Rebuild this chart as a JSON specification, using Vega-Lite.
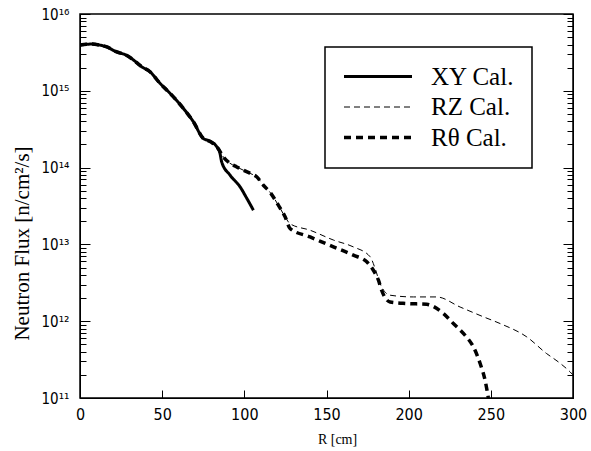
{
  "$schema": "https://vega.github.io/schema/vega-lite/v6.json",
  "width": 493,
  "height": 384,
  "autosize": {"type": "none"},
  "padding": {"left": 80, "top": 14, "right": 18, "bottom": 53},
  "background": "white",
  "config": {
    "view": {"stroke": "black", "strokeWidth": 1.5},
    "axis": {"grid": false, "domainColor": "black", "tickColor": "black", "labelColor": "black", "titleColor": "black", "labelFlush": false},
    "legend": {"strokeWidth": 1.5}
  },
  "data": {
    "values": [
      {"series": "XY Cal.", "R": 0, "flux": 3.94e15},
      {"series": "XY Cal.", "R": 4, "flux": 4.03e15},
      {"series": "XY Cal.", "R": 7, "flux": 4.06e15},
      {"series": "XY Cal.", "R": 12, "flux": 3.94e15},
      {"series": "XY Cal.", "R": 16, "flux": 3.75e15},
      {"series": "XY Cal.", "R": 22, "flux": 3.23e15},
      {"series": "XY Cal.", "R": 28, "flux": 2.92e15},
      {"series": "XY Cal.", "R": 32, "flux": 2.57e15},
      {"series": "XY Cal.", "R": 37.5, "flux": 2.06e15},
      {"series": "XY Cal.", "R": 42.6, "flux": 1.77e15},
      {"series": "XY Cal.", "R": 48.7, "flux": 1.25e15},
      {"series": "XY Cal.", "R": 54.8, "flux": 9.27e14},
      {"series": "XY Cal.", "R": 62.9, "flux": 5.9e14},
      {"series": "XY Cal.", "R": 69, "flux": 3.95e14},
      {"series": "XY Cal.", "R": 75, "flux": 2.4e14},
      {"series": "XY Cal.", "R": 79, "flux": 2.21e14},
      {"series": "XY Cal.", "R": 83.2, "flux": 1.87e14},
      {"series": "XY Cal.", "R": 85.2, "flux": 1.53e14},
      {"series": "XY Cal.", "R": 86.2, "flux": 1.19e14},
      {"series": "XY Cal.", "R": 91.3, "flux": 7.98e13},
      {"series": "XY Cal.", "R": 97.4, "flux": 5.62e13},
      {"series": "XY Cal.", "R": 101.5, "flux": 3.98e13},
      {"series": "XY Cal.", "R": 105.5, "flux": 2.79e13},

      {"series": "RZ Cal.", "R": 0, "flux": 3.94e15},
      {"series": "RZ Cal.", "R": 4, "flux": 4.03e15},
      {"series": "RZ Cal.", "R": 7, "flux": 4.06e15},
      {"series": "RZ Cal.", "R": 12, "flux": 3.94e15},
      {"series": "RZ Cal.", "R": 16, "flux": 3.75e15},
      {"series": "RZ Cal.", "R": 22, "flux": 3.23e15},
      {"series": "RZ Cal.", "R": 28, "flux": 2.92e15},
      {"series": "RZ Cal.", "R": 32, "flux": 2.57e15},
      {"series": "RZ Cal.", "R": 37.5, "flux": 2.06e15},
      {"series": "RZ Cal.", "R": 42.6, "flux": 1.77e15},
      {"series": "RZ Cal.", "R": 48.7, "flux": 1.25e15},
      {"series": "RZ Cal.", "R": 54.8, "flux": 9.27e14},
      {"series": "RZ Cal.", "R": 62.9, "flux": 5.9e14},
      {"series": "RZ Cal.", "R": 69, "flux": 3.95e14},
      {"series": "RZ Cal.", "R": 75, "flux": 2.4e14},
      {"series": "RZ Cal.", "R": 80, "flux": 2.14e14},
      {"series": "RZ Cal.", "R": 84, "flux": 1.78e14},
      {"series": "RZ Cal.", "R": 87.2, "flux": 1.38e14},
      {"series": "RZ Cal.", "R": 91, "flux": 1.15e14},
      {"series": "RZ Cal.", "R": 95.4, "flux": 1.02e14},
      {"series": "RZ Cal.", "R": 100, "flux": 9.12e13},
      {"series": "RZ Cal.", "R": 104, "flux": 8.32e13},
      {"series": "RZ Cal.", "R": 107.5, "flux": 7.59e13},
      {"series": "RZ Cal.", "R": 111.6, "flux": 5.89e13},
      {"series": "RZ Cal.", "R": 115.6, "flux": 4.79e13},
      {"series": "RZ Cal.", "R": 120.7, "flux": 3.24e13},
      {"series": "RZ Cal.", "R": 124.8, "flux": 2.29e13},
      {"series": "RZ Cal.", "R": 127.8, "flux": 1.86e13},
      {"series": "RZ Cal.", "R": 140, "flux": 1.53e13},
      {"series": "RZ Cal.", "R": 154.2, "flux": 1.14e13},
      {"series": "RZ Cal.", "R": 166.3, "flux": 9.29e12},
      {"series": "RZ Cal.", "R": 176.5, "flux": 6.92e12},
      {"series": "RZ Cal.", "R": 179.6, "flux": 4.85e12},
      {"series": "RZ Cal.", "R": 182.6, "flux": 3.09e12},
      {"series": "RZ Cal.", "R": 188.7, "flux": 2.18e12},
      {"series": "RZ Cal.", "R": 202.9, "flux": 2.07e12},
      {"series": "RZ Cal.", "R": 217, "flux": 2.07e12},
      {"series": "RZ Cal.", "R": 231.3, "flux": 1.53e12},
      {"series": "RZ Cal.", "R": 245.5, "flux": 1.14e12},
      {"series": "RZ Cal.", "R": 255.6, "flux": 9.33e11},
      {"series": "RZ Cal.", "R": 271.9, "flux": 6.24e11},
      {"series": "RZ Cal.", "R": 284, "flux": 3.78e11},
      {"series": "RZ Cal.", "R": 291.1, "flux": 2.95e11},
      {"series": "RZ Cal.", "R": 298.2, "flux": 2.19e11},
      {"series": "RZ Cal.", "R": 300, "flux": 2.0e11},

      {"series": "Rθ Cal.", "R": 0, "flux": 3.94e15},
      {"series": "Rθ Cal.", "R": 4, "flux": 4.03e15},
      {"series": "Rθ Cal.", "R": 7, "flux": 4.06e15},
      {"series": "Rθ Cal.", "R": 12, "flux": 3.94e15},
      {"series": "Rθ Cal.", "R": 16, "flux": 3.75e15},
      {"series": "Rθ Cal.", "R": 22, "flux": 3.23e15},
      {"series": "Rθ Cal.", "R": 28, "flux": 2.92e15},
      {"series": "Rθ Cal.", "R": 32, "flux": 2.57e15},
      {"series": "Rθ Cal.", "R": 37.5, "flux": 2.06e15},
      {"series": "Rθ Cal.", "R": 42.6, "flux": 1.77e15},
      {"series": "Rθ Cal.", "R": 48.7, "flux": 1.25e15},
      {"series": "Rθ Cal.", "R": 54.8, "flux": 9.27e14},
      {"series": "Rθ Cal.", "R": 62.9, "flux": 5.9e14},
      {"series": "Rθ Cal.", "R": 69, "flux": 3.95e14},
      {"series": "Rθ Cal.", "R": 75, "flux": 2.4e14},
      {"series": "Rθ Cal.", "R": 80, "flux": 2.14e14},
      {"series": "Rθ Cal.", "R": 84, "flux": 1.78e14},
      {"series": "Rθ Cal.", "R": 87.2, "flux": 1.38e14},
      {"series": "Rθ Cal.", "R": 91, "flux": 1.15e14},
      {"series": "Rθ Cal.", "R": 95.4, "flux": 1.02e14},
      {"series": "Rθ Cal.", "R": 100, "flux": 9.12e13},
      {"series": "Rθ Cal.", "R": 104, "flux": 8.32e13},
      {"series": "Rθ Cal.", "R": 107.5, "flux": 7.59e13},
      {"series": "Rθ Cal.", "R": 111.6, "flux": 5.89e13},
      {"series": "Rθ Cal.", "R": 115.6, "flux": 4.79e13},
      {"series": "Rθ Cal.", "R": 120.7, "flux": 3.24e13},
      {"series": "Rθ Cal.", "R": 124.8, "flux": 2.29e13},
      {"series": "Rθ Cal.", "R": 127.8, "flux": 1.61e13},
      {"series": "Rθ Cal.", "R": 140, "flux": 1.25e13},
      {"series": "Rθ Cal.", "R": 154.2, "flux": 9.29e12},
      {"series": "Rθ Cal.", "R": 166.3, "flux": 7.24e12},
      {"series": "Rθ Cal.", "R": 174.5, "flux": 5.93e12},
      {"series": "Rθ Cal.", "R": 178.5, "flux": 4.61e12},
      {"series": "Rθ Cal.", "R": 181.6, "flux": 3.42e12},
      {"series": "Rθ Cal.", "R": 183.6, "flux": 2.51e12},
      {"series": "Rθ Cal.", "R": 188.7, "flux": 1.78e12},
      {"series": "Rθ Cal.", "R": 198.8, "flux": 1.7e12},
      {"series": "Rθ Cal.", "R": 211, "flux": 1.66e12},
      {"series": "Rθ Cal.", "R": 221.1, "flux": 1.26e12},
      {"series": "Rθ Cal.", "R": 227.2, "flux": 9.33e11},
      {"series": "Rθ Cal.", "R": 234.3, "flux": 6.56e11},
      {"series": "Rθ Cal.", "R": 239.4, "flux": 4.62e11},
      {"series": "Rθ Cal.", "R": 243.5, "flux": 2.81e11},
      {"series": "Rθ Cal.", "R": 246.5, "flux": 1.7e11},
      {"series": "Rθ Cal.", "R": 248.5, "flux": 1.0e11}
    ]
  },
  "layer": [
    {
      "mark": {"type": "line", "color": "black", "interpolate": "monotone", "clip": true},
      "encoding": {
        "x": {
          "field": "R", "type": "quantitative",
          "scale": {"domain": [0, 300], "nice": false},
          "axis": null
        },
        "y": {
          "field": "flux", "type": "quantitative",
          "scale": {"type": "log", "domain": [1e11, 1e16], "nice": false},
          "axis": {
            "orient": "left",
            "values": [1e11, 2e11, 3e11, 4e11, 5e11, 6e11, 7e11, 8e11, 9e11,
                       1e12, 2e12, 3e12, 4e12, 5e12, 6e12, 7e12, 8e12, 9e12,
                       1e13, 2e13, 3e13, 4e13, 5e13, 6e13, 7e13, 8e13, 9e13,
                       1e14, 2e14, 3e14, 4e14, 5e14, 6e14, 7e14, 8e14, 9e14,
                       1e15, 2e15, 3e15, 4e15, 5e15, 6e15, 7e15, 8e15, 9e15, 1e16],
            "labelExpr": "abs(log(datum.value)/LN10 - round(log(datum.value)/LN10)) < 0.001 ? '10' + ['¹¹','¹²','¹³','¹⁴','¹⁵','¹⁶'][round(log(datum.value)/LN10) - 11] : ''",
            "tickSize": {"condition": {"test": "abs(log(datum.value)/LN10 - round(log(datum.value)/LN10)) < 0.001", "value": -10}, "value": -6},
            "labelPadding": 21,
            "labelFont": "'Liberation Sans Narrow', 'DejaVu Sans Condensed', 'Liberation Sans', sans-serif",
            "labelFontSize": 15,
            "title": "Neutron Flux [n/cm²/s]",
            "titleFont": "Liberation Serif", "titleFontSize": 21, "titleFontWeight": "normal",
            "titleX": -58, "titleY": 229, "titleAngle": -90, "titleAlign": "center", "titleBaseline": "middle"
          }
        },
        "strokeDash": {
          "field": "series", "type": "nominal",
          "scale": {"domain": ["XY Cal.", "RZ Cal.", "Rθ Cal."], "range": [[1, 0], [6, 4], [7, 5]]},
          "legend": {
            "orient": "none", "legendX": 245, "legendY": 33, "title": null,
            "strokeColor": "black", "fillColor": "white", "padding": 17,
            "symbolType": "stroke", "symbolSize": 4624, "symbolStrokeColor": "black",
            "labelFont": "Liberation Serif", "labelFontSize": 25, "labelColor": "black",
            "labelOffset": 17, "labelLimit": 300, "clipHeight": 25, "rowPadding": 4.5
          }
        },
        "strokeWidth": {
          "field": "series", "type": "nominal",
          "scale": {"type": "ordinal", "domain": ["XY Cal.", "RZ Cal.", "Rθ Cal."], "range": [3, 1, 3.5]},
          "legend": {
            "orient": "none", "legendX": 245, "legendY": 33, "title": null,
            "strokeColor": "black", "fillColor": "white", "padding": 17,
            "symbolType": "stroke", "symbolSize": 4624, "symbolStrokeColor": "black",
            "labelFont": "Liberation Serif", "labelFontSize": 25, "labelColor": "black",
            "labelOffset": 17, "labelLimit": 300, "clipHeight": 25, "rowPadding": 4.5
          }
        }
      }
    },
    {
      "mark": {"type": "point", "opacity": 0},
      "encoding": {
        "x": {
          "field": "R", "type": "quantitative",
          "axis": {
            "values": [0, 50, 100, 150, 200, 250, 300],
            "tickSize": -8,
            "labelPadding": 16,
            "labelFont": "'Liberation Sans Narrow', 'DejaVu Sans Condensed', 'Liberation Sans', sans-serif",
            "labelFontSize": 16,
            "title": "R [cm]",
            "titleFont": "Liberation Serif", "titleFontSize": 14, "titleFontWeight": "normal",
            "titleX": 257, "titleY": 41, "titleAlign": "center", "titleBaseline": "middle"
          }
        },
        "y": {
          "field": "flux", "type": "quantitative",
          "axis": {
            "orient": "right",
            "values": [1e11, 2e11, 3e11, 4e11, 5e11, 6e11, 7e11, 8e11, 9e11,
                       1e12, 2e12, 3e12, 4e12, 5e12, 6e12, 7e12, 8e12, 9e12,
                       1e13, 2e13, 3e13, 4e13, 5e13, 6e13, 7e13, 8e13, 9e13,
                       1e14, 2e14, 3e14, 4e14, 5e14, 6e14, 7e14, 8e14, 9e14,
                       1e15, 2e15, 3e15, 4e15, 5e15, 6e15, 7e15, 8e15, 9e15, 1e16],
            "labels": false, "title": null,
            "tickSize": {"condition": {"test": "abs(log(datum.value)/LN10 - round(log(datum.value)/LN10)) < 0.001", "value": -10}, "value": -6}
          }
        }
      }
    }
  ],
  "resolve": {"axis": {"x": "independent", "y": "independent"}}
}
